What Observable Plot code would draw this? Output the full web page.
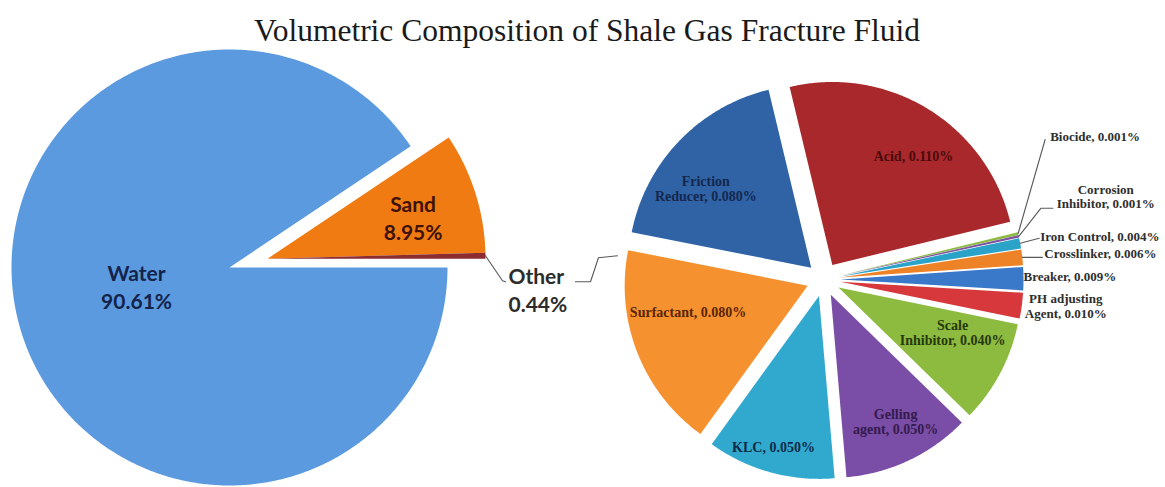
<!DOCTYPE html>
<html>
<head>
<meta charset="utf-8">
<script src="https://cdn.jsdelivr.net/npm/d3@7"></script>
<script src="https://cdn.jsdelivr.net/npm/@observablehq/plot@0.6"></script>
<style>
  html, body { margin: 0; padding: 0; background: #fff; }
</style>
</head>
<body>
<div id="chart"></div>
<script>
// ---- Data -------------------------------------------------------------
const title = "Volumetric Composition of Shale Gas Fracture Fluid";

// Main pie: fluid composition, % by volume
const mainCategories = ["Water", "Sand", "Other"];
const mainValues = [90.61, 8.95, 0.44];
const mainColors = ["#5c9ae0", "#f07b12", "#8c2b30"];

// Secondary pie: breakdown of "Other" additives, % by volume
const additiveCategories = [
  "Friction Reducer", "Acid", "Biocide", "Corrosion Inhibitor", "Iron Control",
  "Crosslinker", "Breaker", "PH adjusting Agent", "Scale Inhibitor",
  "Gelling agent", "KLC", "Surfactant"
];
const additiveValues = [0.080, 0.110, 0.001, 0.001, 0.004, 0.006, 0.009, 0.010, 0.040, 0.050, 0.050, 0.080];
const additiveColors = [
  "#2f63a6", "#a8282c", "#8cba3e", "#7b539f", "#2ba3c9", "#ee8226",
  "#3a78c9", "#d6383b", "#8dbb3f", "#7a4da6", "#31a9cf", "#f5922f"
];

// ---- Layout -----------------------------------------------------------
const W = 1165, H = 487;
const deg = Math.PI / 180;

const mainLayout = {
  cx: 229, cy: 267, r: 218, startDeg: 90,
  explode: {Water: 0, Sand: 39, Other: 39}, explodeDir: 77,
  inner: {
    Water: {f: 0.435, turn: 5.4, color: "#14234a"},
    Sand: {f: 0.695, turn: 1.7, color: "#3e1206"}
  }
};

const sideLayout = {
  cx: 823, cy: 279, r: 183, startDeg: -78.8, explode: 17,
  inner: {
    "Friction Reducer": {f: 0.72, turn: -7, color: "#15274d", wrap: true},
    "Acid": {f: 0.74, turn: 5.4, color: "#4a0b0c"},
    "Surfactant": {f: 0.67, turn: 8.9, color: "#5a2400"},
    "KLC": {f: 0.865, turn: 1.2, color: "#0d2b44"},
    "Gelling agent": {f: 0.777, turn: -1.8, color: "#341b4d", wrap: true},
    "Scale Inhibitor": {f: 0.67, turn: -6.4, color: "#25380c", wrap: true}
  },
  // outside labels: offset from the slice's outer mid point, with leader elbows
  outer: {
    "Biocide": {dx: 32, dy: -97, anchor: "start", leader: [[27, -94]]},
    "Corrosion Inhibitor": {dx: 87, dy: -40, anchor: "middle", wrap: true, leader: [[22, -28], [34, -28]]},
    "Iron Control": {dx: 20, dy: -7, anchor: "start", leader: [[19, -5]]},
    "Crosslinker": {dx: 22, dy: -4, anchor: "start", leader: [[20, 0]]},
    "Breaker": {dx: 0, dy: -2, anchor: "start"},
    "PH adjusting Agent": {dx: 44, dy: 0, anchor: "middle", wrap: true}
  }
};

// "Other" callout, relative to the outer mid point of the Other slice
const otherCallout = {
  text: {dx: 23, dy: 33},
  leader: [[0, 0], [17, 25], [20, 26]],
  link: [[90, 26], [105, 26], [113, 2], [132, 0]]
};

// ---- Geometry ---------------------------------------------------------
const polar = (cx, cy, r, a) => [cx + r * Math.sin(a), cy - r * Math.cos(a)];

function layoutPie(categories, values, L, explodeOf) {
  const arcs = d3.pie().sort(null)
    .startAngle(L.startDeg * deg)
    .endAngle(L.startDeg * deg + 2 * Math.PI)(values);
  return arcs.map((a, i) => {
    const category = categories[i];
    const mid = (a.startAngle + a.endAngle) / 2;
    const [dist, dir] = explodeOf(category, mid);
    const [cx, cy] = polar(L.cx, L.cy, dist, dir);
    return {category, value: values[i], a0: a.startAngle, a1: a.endAngle, mid, cx, cy, r: L.r};
  });
}

function slicePoints(s) {
  const n = Math.max(2, Math.ceil((s.a1 - s.a0) / (0.5 * deg)));
  const pts = [{category: s.category, x: s.cx, y: s.cy}];
  for (let k = 0; k <= n; ++k) {
    const [x, y] = polar(s.cx, s.cy, s.r, s.a0 + (s.a1 - s.a0) * k / n);
    pts.push({category: s.category, x, y});
  }
  return pts;
}

const mainSlices = layoutPie(mainCategories, mainValues, mainLayout,
  (c, mid) => [mainLayout.explode[c], mainLayout.explode[c] ? mainLayout.explodeDir * deg : mid]);
const sideSlices = layoutPie(additiveCategories, additiveValues, sideLayout,
  (c, mid) => [sideLayout.explode, mid]);

const slices = [...mainSlices, ...sideSlices].flatMap(slicePoints);

// label text built from the values
const wrapName = (name) => name.replace(/ (?=[^ ]*$)/, "\n");
const sideText = (s, wrap) => `${wrap ? wrapName(s.category) : s.category}, ${s.value.toFixed(3)}%`;

const mainLabels = mainSlices.filter(s => mainLayout.inner[s.category]).map(s => {
  const o = mainLayout.inner[s.category];
  const [x, y] = polar(s.cx, s.cy, o.f * s.r, s.mid + o.turn * deg);
  return {x, y, text: `${s.category}\n${s.value.toFixed(2)}%`, color: o.color};
});

const sideInner = sideSlices.filter(s => sideLayout.inner[s.category]).map(s => {
  const o = sideLayout.inner[s.category];
  const [x, y] = polar(s.cx, s.cy, o.f * s.r, s.mid + o.turn * deg);
  return {x, y, text: sideText(s, o.wrap), color: o.color};
});

const sideOuter = [];
const leaders = [];
for (const s of sideSlices) {
  const o = sideLayout.outer[s.category];
  if (!o) continue;
  const [ox, oy] = polar(s.cx, s.cy, s.r, s.mid);
  sideOuter.push({x: ox + o.dx, y: oy + o.dy, text: sideText(s, o.wrap), anchor: o.anchor});
  if (o.leader) {
    leaders.push({id: s.category, x: ox, y: oy});
    for (const [dx, dy] of o.leader) leaders.push({id: s.category, x: ox + dx, y: oy + dy});
  }
}

const other = mainSlices.find(s => s.category === "Other");
const [otx, oty] = polar(other.cx, other.cy, other.r, other.mid);
for (const [dx, dy] of otherCallout.leader) leaders.push({id: "other-leader", x: otx + dx, y: oty + dy});
for (const [dx, dy] of otherCallout.link) leaders.push({id: "other-link", x: otx + dx, y: oty + dy});
const otherLabel = [{x: otx + otherCallout.text.dx, y: oty + otherCallout.text.dy,
  text: `${other.category}\n${other.value.toFixed(2)}%`}];

// ---- Chart ------------------------------------------------------------
const innerFont = {fontFamily: "Liberation Serif", fontWeight: "bold", fontSize: 14, lineHeight: 1.08};
const outerFont = {fontFamily: "Liberation Serif", fontWeight: "bold", fontSize: 13, lineHeight: 1.12};

const chart = Plot.plot({
  width: W, height: H,
  margin: 0,
  x: {domain: [0, W], range: [0, W], axis: null},
  y: {domain: [0, H], range: [0, H], axis: null},
  color: {domain: [...mainCategories, ...additiveCategories], range: [...mainColors, ...additiveColors]},
  style: {background: "#fff"},
  marks: [
    Plot.line(slices, {x: "x", y: "y", z: "category", fill: "category", stroke: "none", curve: "linear-closed"}),
    Plot.line(leaders, {x: "x", y: "y", z: "id", stroke: "#595959", strokeWidth: 1.1}),
    Plot.text([title], {x: W / 2 + 4, y: 30, text: d => d, fontFamily: "Liberation Serif", fontSize: 31.5, fill: "#1a1a1a"}),
    Plot.text(mainLabels, {x: "x", y: "y", text: "text", fill: "color", fontFamily: "Lato", fontWeight: "bold", fontSize: 21, lineHeight: 1.33}),
    Plot.text(otherLabel, {x: "x", y: "y", text: "text", fill: "#2b2b2b", textAnchor: "start", fontFamily: "Lato", fontWeight: "bold", fontSize: 21, lineHeight: 1.38}),
    Plot.text(sideInner, {x: "x", y: "y", text: "text", fill: "color", ...innerFont}),
    Plot.text(sideOuter.filter(d => d.anchor === "start"), {x: "x", y: "y", text: "text", fill: "#2e2e2e", textAnchor: "start", ...outerFont}),
    Plot.text(sideOuter.filter(d => d.anchor === "middle"), {x: "x", y: "y", text: "text", fill: "#2e2e2e", textAnchor: "middle", ...outerFont})
  ]
});
document.getElementById("chart").appendChild(chart);
</script>
</body>
</html>
